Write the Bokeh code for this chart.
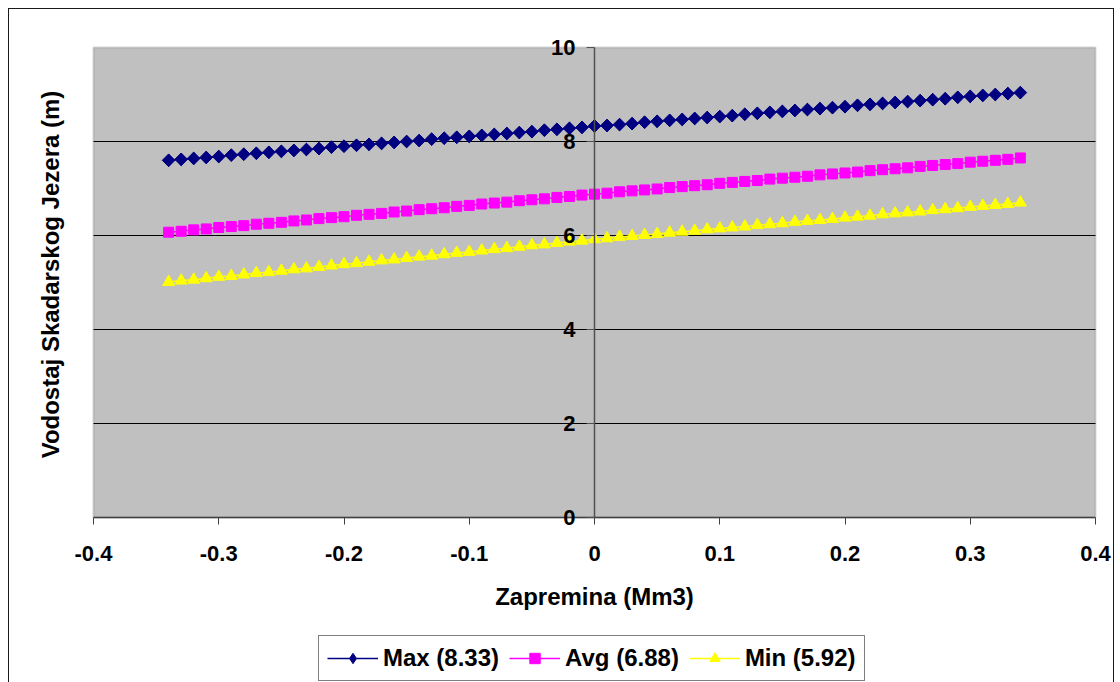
from bokeh.plotting import figure
from bokeh.models import (FixedTicker, LinearAxis, Legend, LegendItem, Range1d,
                          BoxAnnotation)
from bokeh.embed import file_html
from bokeh.resources import INLINE
import math

# ---------------- data ----------------
x_vals = [-0.34, -0.33, -0.32, -0.31, -0.30, -0.29, -0.28, -0.27, -0.26, -0.25,
          -0.24, -0.23, -0.22, -0.21, -0.20, -0.19, -0.18, -0.17, -0.16, -0.15,
          -0.14, -0.13, -0.12, -0.11, -0.10, -0.09, -0.08, -0.07, -0.06, -0.05,
          -0.04, -0.03, -0.02, -0.01, 0.00, 0.01, 0.02, 0.03, 0.04, 0.05,
          0.06, 0.07, 0.08, 0.09, 0.10, 0.11, 0.12, 0.13, 0.14, 0.15,
          0.16, 0.17, 0.18, 0.19, 0.20, 0.21, 0.22, 0.23, 0.24, 0.25,
          0.26, 0.27, 0.28, 0.29, 0.30, 0.31, 0.32, 0.33, 0.34]

max_vals = [7.60, 7.62, 7.64, 7.66, 7.68, 7.71, 7.73, 7.75, 7.77, 7.79,
            7.81, 7.83, 7.85, 7.88, 7.90, 7.92, 7.94, 7.96, 7.98, 8.00,
            8.02, 8.05, 8.07, 8.09, 8.11, 8.13, 8.15, 8.17, 8.19, 8.21,
            8.24, 8.26, 8.28, 8.30, 8.33, 8.34, 8.36, 8.38, 8.41, 8.43,
            8.45, 8.47, 8.49, 8.51, 8.53, 8.55, 8.58, 8.60, 8.62, 8.64,
            8.66, 8.68, 8.70, 8.72, 8.74, 8.77, 8.79, 8.81, 8.83, 8.85,
            8.87, 8.89, 8.91, 8.94, 8.96, 8.98, 9.00, 9.02, 9.04]

avg_vals = [6.07, 6.09, 6.12, 6.14, 6.17, 6.19, 6.21, 6.24, 6.26, 6.28,
            6.31, 6.33, 6.36, 6.38, 6.40, 6.43, 6.45, 6.47, 6.50, 6.52,
            6.55, 6.57, 6.59, 6.62, 6.64, 6.67, 6.69, 6.71, 6.74, 6.76,
            6.78, 6.81, 6.83, 6.86, 6.88, 6.90, 6.93, 6.95, 6.97, 6.99,
            7.02, 7.04, 7.06, 7.08, 7.11, 7.13, 7.15, 7.17, 7.20, 7.22,
            7.24, 7.26, 7.29, 7.31, 7.33, 7.35, 7.38, 7.40, 7.42, 7.44,
            7.47, 7.49, 7.51, 7.53, 7.56, 7.58, 7.60, 7.62, 7.65]

min_vals = [5.01, 5.04, 5.06, 5.09, 5.12, 5.14, 5.17, 5.20, 5.22, 5.25,
            5.28, 5.30, 5.33, 5.36, 5.39, 5.41, 5.44, 5.47, 5.49, 5.52,
            5.55, 5.57, 5.60, 5.63, 5.65, 5.68, 5.71, 5.73, 5.76, 5.79,
            5.81, 5.84, 5.87, 5.89, 5.92, 5.94, 5.97, 5.99, 6.01, 6.03,
            6.06, 6.08, 6.10, 6.13, 6.15, 6.17, 6.19, 6.22, 6.24, 6.26,
            6.29, 6.31, 6.33, 6.35, 6.38, 6.40, 6.42, 6.45, 6.47, 6.49,
            6.51, 6.54, 6.56, 6.58, 6.61, 6.63, 6.65, 6.67, 6.70]

series_names = ["Max (8.33)", "Avg (6.88)", "Min (5.92)"]

x_lim = [-0.4, 0.4]
y_lim = [0, 10]
x_ticks = [-0.4, -0.3, -0.2, -0.1, 0.0, 0.1, 0.2, 0.3, 0.4]
x_tick_labels = ["-0.4", "-0.3", "-0.2", "-0.1", "0", "0.1", "0.2", "0.3", "0.4"]
y_ticks = [0, 2, 4, 6, 8, 10]
y_grid_ticks = [2, 4, 6, 8]

x_title = "Zapremina (Mm3)"
y_title = "Vodostaj Skadarskog Jezera (m)"

FONT = "Liberation Sans"

# ---------------- layout constants (pixels) ----------------
W, H = 1120, 682
PLOT_L, PLOT_R, PLOT_T, PLOT_B = 93, 1095, 47, 517
sx = (PLOT_R - PLOT_L) / (x_lim[1] - x_lim[0])
sy = (PLOT_B - PLOT_T) / (y_lim[1] - y_lim[0])
xr = Range1d(x_lim[0] - PLOT_L / sx, x_lim[1] + (W - PLOT_R) / sx)
yr = Range1d(y_lim[0] - (H - PLOT_B) / sy, y_lim[1] + PLOT_T / sy)

# ---------------- figure ----------------
p = figure(width=W, height=H, output_backend="svg", toolbar_location=None,
           x_range=xr, y_range=yr,
           min_border_left=0, min_border_right=0, min_border_top=0,
           min_border_bottom=0)

# chart-area border (left, top, right) drawn behind the transparent canvas
p.styles = {
    "background-color": "white",
    "background-image": "linear-gradient(#1a1a1a,#1a1a1a), linear-gradient(#1a1a1a,#1a1a1a), linear-gradient(#1a1a1a,#1a1a1a)",
    "background-size": "1px 674px, 1106px 1px, 1px 674px",
    "background-position": "8px 8px, 8px 8px, 1113px 8px",
    "background-repeat": "no-repeat",
}
p.border_fill_alpha = 0
p.background_fill_alpha = 0
p.outline_line_color = None
p.xgrid.visible = False
p.ygrid.visible = False

# grey plot area
area = BoxAnnotation(left=x_lim[0], right=x_lim[1], bottom=y_lim[0], top=y_lim[1],
                     fill_color="#C0C0C0", fill_alpha=1,
                     line_color="#808080", line_width=2, level="image")
p.add_layout(area)

# horizontal gridlines inside the plot area
p.segment(x0=[x_lim[0]] * len(y_grid_ticks), x1=[x_lim[1]] * len(y_grid_ticks),
          y0=y_grid_ticks, y1=y_grid_ticks, line_color="black", line_width=1,
          level="underlay")

# x axis at y = 0
xa = p.xaxis[0]
xa.fixed_location = 0
xa.bounds = (x_lim[0], x_lim[1])
xa.ticker = FixedTicker(ticks=x_ticks)
xa.major_label_overrides = {t: l for t, l in zip(x_ticks, x_tick_labels)}
xa.major_tick_out = 7
xa.major_tick_in = 0
xa.minor_tick_out = 0
xa.minor_tick_in = 0
xa.major_tick_line_color = "#404040"
xa.axis_line_color = "#404040"
xa.axis_line_width = 1.5
xa.major_label_standoff = 21
xa.major_label_text_font = FONT
xa.major_label_text_font_style = "bold"
xa.major_label_text_font_size = "22px"
xa.major_label_text_color = "black"
xa.axis_label = x_title
xa.axis_label_standoff = 19
xa.axis_label_text_font = FONT
xa.axis_label_text_font_style = "bold"
xa.axis_label_text_font_size = "24px"
xa.axis_label_text_color = "black"

# y axis at x = 0
ya = p.yaxis[0]
ya.fixed_location = 0
ya.bounds = (y_lim[0], y_lim[1])
ya.ticker = FixedTicker(ticks=y_ticks)
ya.major_tick_out = 8
ya.major_tick_in = 0
ya.minor_tick_out = 0
ya.minor_tick_in = 0
ya.major_tick_line_color = "#505050"
ya.axis_line_color = "#505050"
ya.axis_line_width = 1.5
ya.major_label_standoff = 11
ya.major_label_text_font = FONT
ya.major_label_text_font_style = "bold"
ya.major_label_text_font_size = "22px"
ya.major_label_text_color = "black"

# y title, left of the plot area
ylab = LinearAxis(fixed_location=x_lim[0], bounds=(y_lim[0], 10.34),
                  ticker=FixedTicker(ticks=[]), axis_label=y_title)
ylab.axis_line_color = None
ylab.major_tick_out = 0
ylab.major_tick_in = 0
ylab.minor_tick_out = 0
ylab.minor_tick_in = 0
ylab.major_label_standoff = 0
ylab.axis_label_standoff = 30
ylab.axis_label_text_font = FONT
ylab.axis_label_text_font_style = "bold"
ylab.axis_label_text_font_size = "24px"
ylab.axis_label_text_color = "black"
p.add_layout(ylab, "left")

# ---------------- series ----------------
colors = ["#000080", "#FF00FF", "#FFFF00"]
markers = ["square", "square", "triangle"]
legend_markers = ["diamond", "square", "triangle"]
sizes = [9, 10, 12]
angles = [math.pi / 4, 0, 0]
series = [max_vals, avg_vals, min_vals]

items = []
for name, vals, c, m, lm, s, a in zip(series_names, series, colors, markers,
                                      legend_markers, sizes, angles):
    lr = p.line(x_vals, vals, line_color=c, line_width=1.5)
    if lm != m:
        # diamond key glyph, drawn beneath (and hidden by) the rotated squares
        key = p.scatter(x_vals, vals, marker=lm, size=s + 3,
                        fill_color=c, line_color=c)
    sr = p.scatter(x_vals, vals, marker=m, size=s, angle=a,
                   fill_color=c, line_color=c)
    if lm != m:
        items.append(LegendItem(label=name, renderers=[lr, key]))
    else:
        items.append(LegendItem(label=name, renderers=[lr, sr]))

legend = Legend(items=items, orientation="horizontal", location=(318, 1))
legend.label_text_font = FONT
legend.label_text_font_style = "bold"
legend.label_text_font_size = "24px"
legend.label_text_color = "black"
legend.glyph_width = 51
legend.glyph_height = 26
legend.label_height = 26
legend.label_standoff = 5
legend.spacing = 10
legend.padding = 8
legend.margin = 0
legend.border_line_color = "black"
legend.border_line_width = 1
legend.background_fill_color = "white"
legend.background_fill_alpha = 1
p.add_layout(legend)

open("out.html", "w").write(file_html(p, INLINE))
